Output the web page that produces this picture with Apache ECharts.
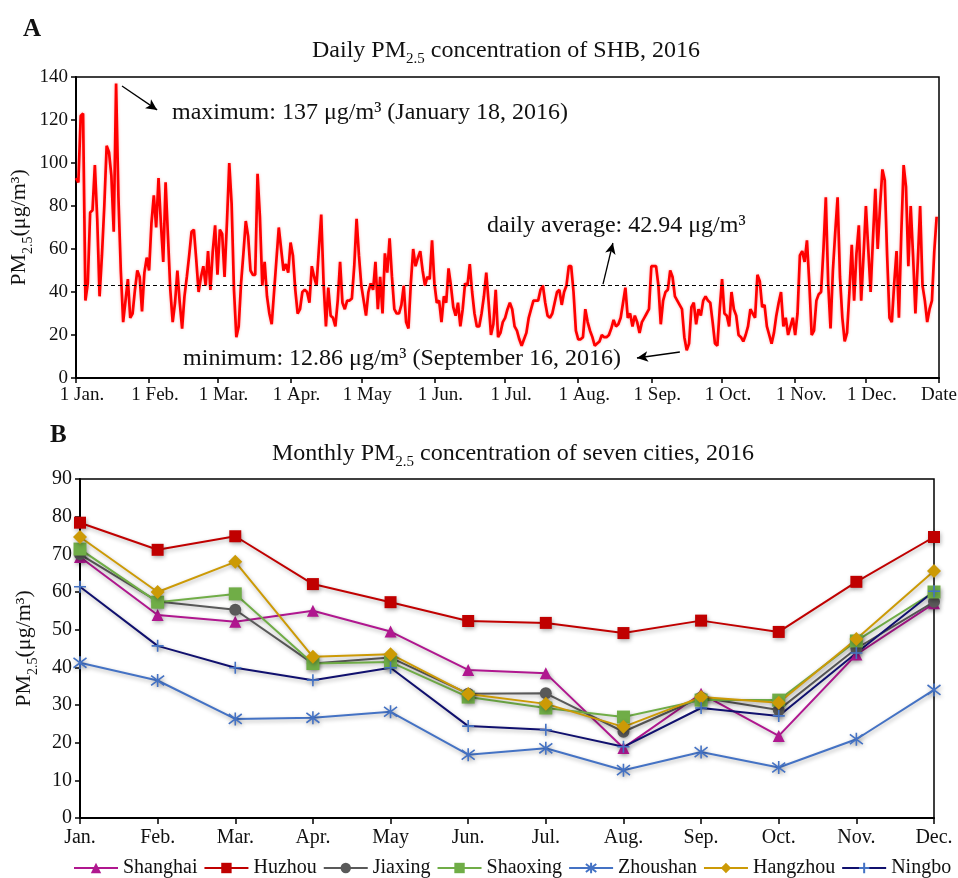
<!DOCTYPE html>
<html>
<head>
<meta charset="utf-8">
<script src="https://cdn.jsdelivr.net/npm/echarts@6/dist/echarts.min.js"></script>
<style>html,body{margin:0;padding:0;background:#fff}#c{width:958px;height:878px}</style>
</head>
<body>
<div id="c"></div>
<script>
// ---- Panel A: daily PM2.5 of SHB, 2016 (µg/m³), one value per day ----
const pmJan = [93,91,122,123,36,44,77,78,99,74,38,57,80,108,105,94,68,137,84,50,26,36,46,28,30,41,50,47,31,49,56];
const pmFeb = [50,72,85,70,93,72,54,91,66,41,26,35,50,35,23,38,47,57,68,69,55,40,47,52,43,59,41,59,71];
const pmMar = [48,69,67,47,72,100,81,41,19,24,44,58,73,66,50,48,48,95,75,43,54,38,30,25,40,55,70,60,50,53,49];
const pmApr = [63,57,41,30,32,40,41,40,35,52,47,43,60,76,44,24,42,29,28,24,36,54,35,32,36,36,37,52,74,57];
const pmMay = [43,36,29,40,44,41,54,32,47,30,58,49,65,47,32,30,30,34,43,26,23,44,60,52,56,59,50,43,47,46,64];
const pmJun = [44,35,36,26,38,35,51,43,33,29,35,24,32,44,43,53,40,30,24,24,30,38,49,35,20,25,41,19,21,26];
const pmJul = [28,32,35,32,24,22,18,15,18,21,28,32,36,36,36,41,43,35,29,28,30,35,40,41,34,40,43,52,52,40,22];
const pmAug = [18,18,19,32,26,22,19,15,16,17,20,19,19,20,23,27,24,25,28,35,42,28,30,24,29,26,21,26,28,30,32];
const pmSep = [52,52,52,43,25,36,40,41,50,47,38,36,34,32,19,12.86,16,33,35,25,32,29,36,38,36,35,26,16,15,32];
const pmOct = [46,30,29,24,40,32,29,20,19,17,20,24,32,30,28,48,45,33,34,24,20,16,21,29,35,40,24,28,20,24,28];
const pmNov = [20,30,57,59,54,64,44,20,22,36,39,40,60,84,44,23,50,68,84,47,28,17,21,40,62,36,58,71,36,57];
const pmDec = [80,60,40,65,88,60,80,97,92,57,28,26,44,59,28,67,99,89,52,80,57,30,54,80,43,36,26,32,36,59,75];
const dailyPM = [].concat(pmJan, pmFeb, pmMar, pmApr, pmMay, pmJun, pmJul, pmAug, pmSep, pmOct, pmNov, pmDec);

const monthStartDays = [0,31,60,91,121,152,182,213,244,274,305,335,366];
const dateTickLabels = ['1 Jan.','1 Feb.','1 Mar.','1 Apr.','1 May','1 Jun.','1 Jul.','1 Aug.','1 Sep.','1 Oct.','1 Nov.','1 Dec.','Date'];
const dailyAverage = 42.94;

// ---- Panel B: monthly PM2.5 of seven cities, 2016 ----
const months = ['Jan.','Feb.','Mar.','Apr.','May','Jun.','Jul.','Aug.','Sep.','Oct.','Nov.','Dec.'];
const shanghai = [69.3,53.9,52.1,55.0,49.5,39.3,38.4,18.6,33.0,21.8,43.4,57.0];
const huzhou   = [78.4,71.2,74.8,62.1,57.3,52.3,51.8,49.1,52.4,49.4,62.7,74.6];
const jiaxing  = [70.0,57.5,55.3,41.0,42.6,33.0,33.1,22.9,32.0,28.7,45.0,57.4];
const shaoxing = [71.4,57.3,59.5,41.0,41.4,32.1,29.2,26.8,31.3,31.3,47.0,60.0];
const zhoushan = [41.2,36.5,26.3,26.6,28.2,16.8,18.5,12.7,17.5,13.4,20.9,34.0];
const hangzhou = [74.6,60.0,68.0,42.8,43.5,32.9,30.3,24.2,32.1,30.6,47.5,65.6];
const ningbo   = [61.4,45.7,39.9,36.6,39.9,24.4,23.4,18.9,29.2,27.1,43.8,60.2];

const serif = "'Liberation Serif','Times New Roman',serif";
const txt = '#111';
const subRich = (fs, lh, sfs, slh) => ({
  t: {fontSize: fs, fontFamily: serif, fontWeight: 'normal', color: txt, verticalAlign: 'middle', lineHeight: lh},
  s: {fontSize: sfs, fontFamily: serif, fontWeight: 'normal', color: txt, verticalAlign: 'bottom', lineHeight: slh}
});
const shadow = {shadowColor: 'rgba(0,0,0,0.3)', shadowBlur: 4, shadowOffsetX: 1, shadowOffsetY: 2};

const plusPath = 'path://M5,0L5,10M0,5L10,5';
const starPath = 'path://M5,0L5,10M1.2,1.2L8.8,8.8M8.8,1.2L1.2,8.8';

const cities = [
  {name: 'Shanghai', data: shanghai, color: '#B0178F', symbol: 'triangle', size: 12},
  {name: 'Huzhou',   data: huzhou,   color: '#C00000', symbol: 'rect', size: 12},
  {name: 'Jiaxing',  data: jiaxing,  color: '#595959', symbol: 'circle', size: 12},
  {name: 'Shaoxing', data: shaoxing, color: '#70AD47', symbol: 'rect', size: 13},
  {name: 'Zhoushan', data: zhoushan, color: '#4472C4', symbol: starPath, size: 13, stroke: true},
  {name: 'Hangzhou', data: hangzhou, color: '#CC9A06', symbol: 'diamond', size: 14},
  {name: 'Ningbo',   data: ningbo,   color: '#10106E', symbol: plusPath, size: 12, stroke: true, symColor: '#4472C4'}
];

const chart = echarts.init(document.getElementById('c'));

const citySeries = cities.map(c => ({
  type: 'line', name: c.name, data: c.data, xAxisIndex: 1, yAxisIndex: 1,
  symbol: c.symbol, symbolSize: c.size, showAllSymbol: true,
  color: c.color,
  lineStyle: Object.assign({width: 2, color: c.color}, shadow),
  itemStyle: Object.assign({
    color: c.stroke ? (c.symColor || c.color) : c.color,
    borderColor: c.stroke ? (c.symColor || c.color) : c.color,
    borderWidth: c.stroke ? 1.6 : 0
  }, shadow),
  emphasis: {disabled: true},
  animation: false
}));

const axisLineStyle = {color: '#000', width: 2};
const arrowLine = {type: 'solid', color: '#000', width: 1.3};

chart.setOption({
  animation: false,
  backgroundColor: '#fff',
  title: [
    {text: 'A', left: 23, top: 17, padding: 0, textStyle: {fontFamily: serif, fontWeight: 'bold', fontSize: 25, color: txt}},
    {text: 'B', left: 50, top: 423, padding: 0, textStyle: {fontFamily: serif, fontWeight: 'bold', fontSize: 25, color: txt}},
    {text: '{t|Daily PM}{s|2.5}{t| concentration of SHB, 2016}', left: 506, top: 34, padding: 0, textAlign: 'center',
     textStyle: {fontWeight: 'normal', rich: subRich(24, 28, 15, 33)}},
    {text: '{t|Monthly PM}{s|2.5}{t| concentration of seven cities, 2016}', left: 513, top: 437, padding: 0, textAlign: 'center',
     textStyle: {fontWeight: 'normal', rich: subRich(24, 28, 15, 33)}}
  ],
  legend: {
    data: cities.map(c => c.name), left: 73, top: 858, padding: 0,
    itemWidth: 44, itemHeight: 13, itemGap: 6,
    textStyle: {fontFamily: serif, fontSize: 20, color: txt}
  },
  grid: [
    {left: 76, top: 77, width: 863, height: 301, show: true, borderColor: '#000', borderWidth: 1.5,
     containLabel: false, outerBoundsMode: 'none'},
    {left: 80, top: 479, width: 854, height: 339, show: true, borderColor: '#000', borderWidth: 1.5,
     containLabel: false, outerBoundsMode: 'none'}
  ],
  xAxis: [
    {type: 'value', gridIndex: 0, min: 0, max: 366,
     axisLine: {lineStyle: axisLineStyle},
     axisTick: {show: true, customValues: monthStartDays, length: 5, lineStyle: {color: '#000', width: 1.5}},
     axisLabel: {customValues: monthStartDays, margin: 8, fontFamily: serif, fontSize: 19, color: txt,
       formatter: v => {
         const i = monthStartDays.indexOf(v);
         const s = dateTickLabels[i];
         return i === monthStartDays.length - 1 ? s : '{m|' + s + '}';
       },
       rich: {m: {fontFamily: serif, fontSize: 19, color: txt, padding: [0, 0, 0, 12]}}
     },
     splitLine: {show: false}},
    {type: 'category', gridIndex: 1, data: months, boundaryGap: false,
     axisLine: {lineStyle: axisLineStyle},
     axisTick: {show: true, alignWithLabel: true, length: 6, lineStyle: {color: '#000', width: 1.5}},
     axisLabel: {margin: 10, fontFamily: serif, fontSize: 20, color: txt},
     splitLine: {show: false}}
  ],
  yAxis: [
    {type: 'value', gridIndex: 0, min: 0, max: 140, interval: 20,
     name: '{t|PM}{s|2.5}{t|(μg/m³)}', nameLocation: 'middle', nameGap: 41, nameRotate: 90,
     nameMoveOverlap: false,
     nameTextStyle: {rich: subRich(22, 26, 14, 31)},
     axisLine: {show: true, lineStyle: axisLineStyle},
     axisTick: {show: true, length: 5, lineStyle: {color: '#000', width: 1.5}},
     axisLabel: {margin: 8, fontFamily: serif, fontSize: 19, color: txt},
     splitLine: {show: false}},
    {type: 'value', gridIndex: 1, min: 0, max: 90, interval: 10,
     name: '{t|PM}{s|2.5}{t|(μg/m³)}', nameLocation: 'middle', nameGap: 40, nameRotate: 90,
     nameMoveOverlap: false,
     nameTextStyle: {rich: subRich(22, 26, 14, 31)},
     axisLine: {show: true, lineStyle: axisLineStyle},
     axisTick: {show: true, length: 5, lineStyle: {color: '#000', width: 1.5}},
     axisLabel: {margin: 8, fontFamily: serif, fontSize: 20, color: txt},
     splitLine: {show: false}}
  ],
  series: [
    {type: 'line', name: 'Daily', xAxisIndex: 0, yAxisIndex: 0,
     data: dailyPM.map((v, i) => [i, v]),
     showSymbol: false, symbol: 'none',
     lineStyle: {color: '#FF0000', width: 2.7, shadowColor: 'rgba(255,0,0,0.3)', shadowBlur: 3},
     emphasis: {disabled: true},
     markLine: {
       silent: true, animation: false, label: {show: false},
       symbol: ['none', 'none'],
       data: [
         {yAxis: dailyAverage, lineStyle: {type: [4, 3], color: '#000', width: 1.2}},
         [{coord: [19.5, 135.8], symbol: 'none', lineStyle: arrowLine},
          {coord: [34.4, 124.7], symbol: 'arrow', symbolSize: [8, 11]}],
         [{coord: [223.5, 43.7], symbol: 'none', lineStyle: arrowLine},
          {coord: [227.7, 62.8], symbol: 'arrow', symbolSize: [8, 11]}],
         [{coord: [256.1, 12.1], symbol: 'none', lineStyle: arrowLine},
          {coord: [237.9, 9.3], symbol: 'arrow', symbolSize: [8, 11]}]
       ]
     },
     markPoint: {
       silent: true, animation: false,
       symbol: 'circle', symbolSize: 0,
       label: {show: true, position: 'right', distance: 0, fontFamily: serif, fontSize: 24, color: txt},
       data: [
         {coord: [40.7, 123.3], label: {formatter: 'maximum: 137 μg/m³ (January 18, 2016)'}},
         {coord: [174.3, 70.7], label: {formatter: 'daily average: 42.94 μg/m³'}},
         {coord: [45.4, 8.8], label: {formatter: 'minimum: 12.86 μg/m³ (September 16, 2016)'}}
       ]
     },
     animation: false}
  ].concat(citySeries)
});
</script>
</body>
</html>
